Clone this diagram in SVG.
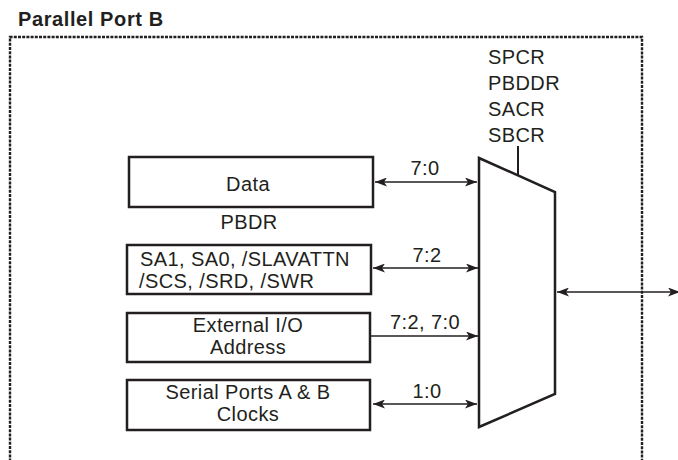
<svg xmlns="http://www.w3.org/2000/svg" width="678" height="460" viewBox="0 0 678 460">
<defs>
<style>
text{font-family:"Liberation Sans",Arial,sans-serif;font-size:20px;letter-spacing:0.4px;fill:#231f20}
.t{font-weight:bold;letter-spacing:0.6px}
.c{text-anchor:middle}
.box{fill:#fff;stroke:#231f20;stroke-width:2.5}
.ln{stroke:#231f20;stroke-width:1.6;fill:none}
.bd{fill:none;stroke:#231f20;stroke-width:2.4;stroke-dasharray:3 1.2}
</style>
<marker id="ah" viewBox="0 0 12 9" refX="12" refY="4.5" markerWidth="12" markerHeight="9" markerUnits="userSpaceOnUse" orient="auto-start-reverse">
<path d="M0,0 L12,4.5 L0,9 L3,4.5 Z" fill="#231f20"/>
</marker>
</defs>
<text class="t" x="18" y="26">Parallel Port B</text>
<path class="bd" d="M10,470 V37 H642 V470"/>
<g id="mux">
<path class="box" d="M479,158 L555,192 L555,394 L479,427 Z"/>
<line class="ln" x1="518" y1="146" x2="518" y2="176" style="stroke-width:2"/>
<text x="488" y="64">SPCR</text>
<text x="488" y="90">PBDDR</text>
<text x="488" y="116">SACR</text>
<text x="488" y="142">SBCR</text>
</g>
<g id="data">
<rect class="box" x="129" y="157" width="244" height="50"/>
<text class="c" x="248" y="191">Data</text>
<text class="c" x="249" y="229">PBDR</text>
</g>
<g id="slave">
<rect class="box" x="127" y="245" width="244" height="49"/>
<text x="140" y="266">SA1, SA0, /SLAVATTN</text>
<text x="139" y="288">/SCS, /SRD, /SWR</text>
</g>
<g id="extio">
<rect class="box" x="127" y="313" width="243" height="49"/>
<text class="c" x="248" y="332">External I/O</text>
<text class="c" x="248" y="354">Address</text>
</g>
<g id="serial">
<rect class="box" x="127" y="380" width="243" height="50"/>
<text class="c" x="248" y="399">Serial Ports A &amp; B</text>
<text class="c" x="248" y="421">Clocks</text>
</g>
<g id="connectors">
<line class="ln" x1="375" y1="182" x2="477" y2="182" marker-start="url(#ah)" marker-end="url(#ah)"/>
<text class="c" x="425" y="175">7:0</text>
<line class="ln" x1="373" y1="268" x2="478" y2="268" marker-start="url(#ah)" marker-end="url(#ah)"/>
<text class="c" x="427" y="262">7:2</text>
<line class="ln" x1="371" y1="336" x2="478" y2="336" marker-end="url(#ah)"/>
<text class="c" x="425" y="329">7:2, 7:0</text>
<line class="ln" x1="373" y1="404" x2="477" y2="404" marker-start="url(#ah)" marker-end="url(#ah)"/>
<text class="c" x="427" y="398">1:0</text>
<line class="ln" x1="557" y1="292" x2="680" y2="292" marker-start="url(#ah)" marker-end="url(#ah)"/>
</g>
</svg>
